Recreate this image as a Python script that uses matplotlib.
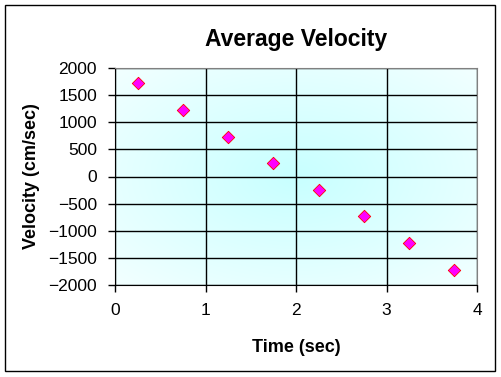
import numpy as np
import matplotlib
matplotlib.use('Agg')
import matplotlib.pyplot as plt
from matplotlib.colors import LinearSegmentedColormap
from matplotlib.patches import Rectangle

# Data
times = [0.25, 0.75, 1.25, 1.75, 2.25, 2.75, 3.25, 3.75]
velocities = [1715, 1225, 735, 245, -245, -735, -1225, -1715]
x_ticks = [0, 1, 2, 3, 4]
y_ticks = [2000, 1500, 1000, 500, 0, -500, -1000, -1500, -2000]

plt.rcParams['font.family'] = ['Liberation Sans', 'DejaVu Sans']

fig = plt.figure(figsize=(5.01, 3.77), dpi=100)
ax = fig.add_axes([115 / 501, 1 - 285 / 377, 362 / 501, 217 / 377])

# radial cyan gradient in the plot area
gx, gy = np.meshgrid(np.linspace(-1, 1, 200), np.linspace(-1, 1, 200))
r = np.clip(np.sqrt(gx ** 2 + gy ** 2) / np.sqrt(2), 0, 1)
cmap = LinearSegmentedColormap.from_list('bg', ['#c8ffff', '#f2ffff'])
ax.imshow(r, cmap=cmap, extent=[0, 1, 0, 1], transform=ax.transAxes,
          aspect='auto', zorder=0, interpolation='bilinear')

ax.scatter(times, velocities, marker='D', s=40, c='#ff00ff',
           edgecolors='#ff0000', linewidths=0.6, zorder=3)

ax.set_xlim(0, 4)
ax.set_ylim(-2000, 2000)
ax.set_xticks(x_ticks)
ax.set_yticks(y_ticks)
ax.grid(True, color='black', linewidth=1.0)
for ln in ax.get_xgridlines() + ax.get_ygridlines():
    ln.set_zorder(1)

ax.tick_params(direction='out', length=5, width=1, labelsize=12.5,
               colors='black', pad=8)
ax.spines['left'].set_color('black')
ax.spines['bottom'].set_color('black')
ax.spines['top'].set_color('#808080')
ax.spines['right'].set_color('#808080')

ax.set_title('Average Velocity', fontsize=16.5, fontweight='bold', pad=16)
ax.set_xlabel('Time (sec)', fontsize=13, fontweight='bold', labelpad=15)
ax.set_ylabel('Velocity (cm/sec)', fontsize=13, fontweight='bold', labelpad=6)

# outer chart border
fig.patches.append(Rectangle((5 / 501, 1 - 371 / 377), 490 / 501, 366 / 377,
                             transform=fig.transFigure, fill=False,
                             edgecolor='black', linewidth=1))

fig.savefig('out.png', dpi=100)
